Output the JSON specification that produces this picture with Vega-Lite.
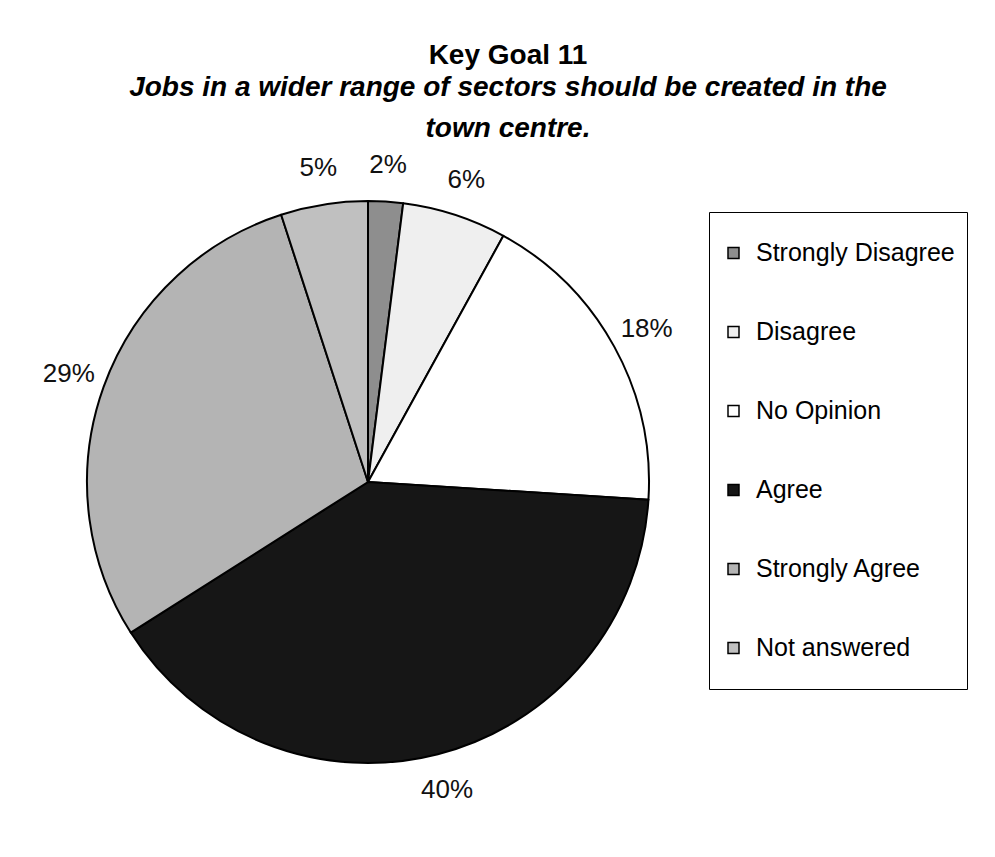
{
  "$schema": "https://vega.github.io/schema/vega-lite/v6.json",
  "autosize": {"type": "none"},
  "padding": {"left": 0, "top": 107, "right": 259, "bottom": 0},
  "width": 736,
  "height": 750,
  "background": "white",
  "config": {"view": {"stroke": null}, "font": "Liberation Sans"},
  "title": {
    "text": "Key Goal 11",
    "subtitle": ["Jobs in a wider range of sectors should be created in the", "town centre."],
    "font": "Liberation Sans",
    "fontSize": 28,
    "fontWeight": "bold",
    "color": "black",
    "subtitleFont": "Liberation Sans",
    "subtitleFontSize": 28,
    "subtitleFontStyle": "italic",
    "subtitleFontWeight": "bold",
    "subtitleColor": "black",
    "subtitleLineHeight": 41,
    "subtitlePadding": 4,
    "anchor": "middle",
    "dx": 140,
    "offset": -36
  },
  "data": {
    "values": [
      {"category": "Strongly Disagree", "pct": 0.02, "order": 1},
      {"category": "Disagree", "pct": 0.06, "order": 2},
      {"category": "No Opinion", "pct": 0.18, "order": 3},
      {"category": "Agree", "pct": 0.40, "order": 4},
      {"category": "Strongly Agree", "pct": 0.29, "order": 5},
      {"category": "Not answered", "pct": 0.05, "order": 6}
    ]
  },
  "layer": [
    {
      "mark": {"type": "arc", "outerRadius": 281, "stroke": "black", "strokeWidth": 2, "strokeJoin": "round"},
      "encoding": {
        "theta": {"field": "pct", "type": "quantitative", "stack": true},
        "order": {"field": "order", "type": "quantitative"},
        "color": {
          "field": "category",
          "type": "nominal",
          "scale": {
            "domain": ["Strongly Disagree", "Disagree", "No Opinion", "Agree", "Strongly Agree", "Not answered"],
            "range": ["#8e8e8e", "#efefef", "#ffffff", "#161616", "#b4b4b4", "#c0c0c0"]
          },
          "legend": {
            "title": null,
            "orient": "none",
            "legendX": 709,
            "legendY": 105,
            "padding": 12,
            "strokeColor": "black",
            "fillColor": "white",
            "symbolType": "square",
            "symbolSize": 121,
            "symbolStrokeColor": "black",
            "symbolStrokeWidth": 1.5,
            "labelFont": "Liberation Sans",
            "labelFontSize": 25,
            "labelColor": "black",
            "labelOffset": 10,
            "labelLimit": 400,
            "clipHeight": 58,
            "rowPadding": 21
          }
        }
      }
    },
    {
      "mark": {"type": "text", "radius": 318, "font": "Liberation Sans", "fontSize": 26, "fill": "#111111"},
      "encoding": {
        "theta": {"field": "pct", "type": "quantitative", "stack": true},
        "order": {"field": "order", "type": "quantitative"},
        "detail": {"field": "category", "type": "nominal"},
        "text": {"field": "pct", "type": "quantitative", "format": ".0%"}
      }
    }
  ]
}
